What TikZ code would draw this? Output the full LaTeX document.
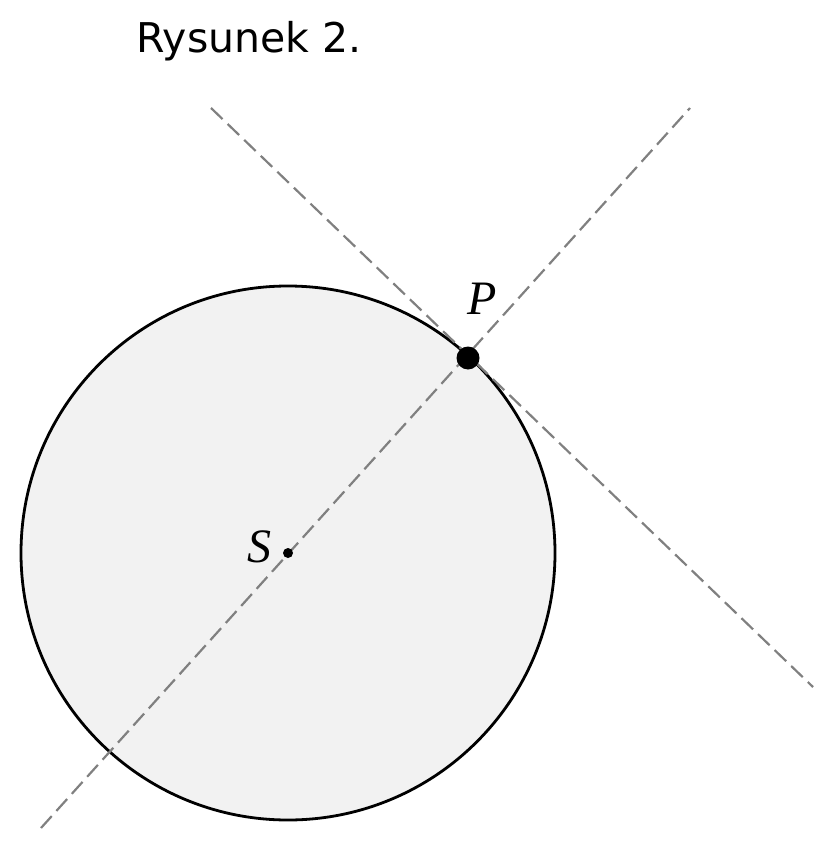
\documentclass[tikz,border=0pt]{standalone}
\usepackage{fontspec}
\setmainfont{DejaVu Sans}
\newfontfamily\labfont{Liberation Serif}
\begin{document}
\begin{tikzpicture}[x=1pt,y=-1pt,
  guide/.style={draw=black!50, line width=2.2pt, dash pattern=on 16pt off 7pt},
  lab/.style={font=\labfont\itshape\fontsize{48}{56}\selectfont, inner sep=0pt}]
\useasboundingbox (0,0) rectangle (835,850);
\coordinate (S) at (288,553);
\draw[line width=2.8pt, fill=black!5] (S) circle[radius=267pt];
\coordinate (t1) at (211,108);
\coordinate (t2) at (813,687);
\coordinate (r1) at (41,828);
\coordinate (r2) at (690,108);
\draw[guide] (t1) -- (t2);
\draw[guide] (r1) -- (r2);
\fill (468,358) coordinate (P) circle[radius=11.5pt];
\fill (S) circle[radius=5pt];
\node[lab] (Pl) at (482,299) {P};
\node[lab] (Sl) at (259,547) {S};
\node[font=\fontsize{41}{49}\selectfont, inner sep=0pt, anchor=base] (title) at (249,53) {Rysunek 2.};
\end{tikzpicture}
\end{document}
